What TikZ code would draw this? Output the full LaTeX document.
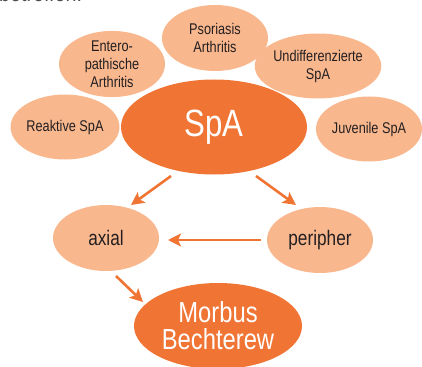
\documentclass[tikz,border=0pt]{standalone}
\usepackage{fontspec}
\setmainfont[FakeStretch=0.82]{Liberation Sans}
\usetikzlibrary{arrows.meta,shapes.geometric}
\definecolor{dark}{RGB}{240,116,52}
\definecolor{light}{RGB}{249,183,142}
\definecolor{txt}{RGB}{35,31,32}
\tikzset{
  sub/.style={ellipse, fill=light, text=txt, inner sep=0pt, minimum width=106pt, minimum height=65pt, align=center, font=\fontsize{15.5}{18}\selectfont},
  mid/.style={ellipse, fill=light, text=txt, inner sep=0pt, minimum width=106pt, minimum height=66pt, font=\fontsize{21}{24}\selectfont},
  main/.style={ellipse, fill=dark, text=white, inner sep=0pt, align=center},
  arr/.style={draw=dark, line width=2.6pt, -{Stealth[length=13pt, width=13pt, inset=3pt]}}
}
\begin{document}
\begin{tikzpicture}[x=1pt, y=-1pt]
\useasboundingbox (0,0) rectangle (422,366);
\clip (0,0) rectangle (422,366);
\node[anchor=base west, text=txt!80, font=\fontsize{24}{26}\selectfont, inner sep=0pt] (top) at (-1,2) {betreffen.};
\node[main, minimum width=186pt, minimum height=95pt, font=\fontsize{38}{40}\selectfont] (spa) at (214,127) {SpA};
\node[sub] (reak) at (65,127) {Reaktive SpA};
\node[sub] (ent) at (112,64) {Entero-\\pathische\\Arthritis};
\node[sub, minimum height=66pt] (pso) at (215,38) {Psoriasis\\Arthritis};
\node[sub] (undiff) at (318,66) {Undifferenzierte\\SpA};
\node[sub] (juv) at (369,129) {Juvenile SpA};
\node[mid] (axial) at (106,238) {axial};
\node[mid] (peri) at (320,240) {peripher};
\node[main, minimum width=168pt, minimum height=86pt, font=\fontsize{29}{27}\selectfont] (mb) at (218,326) {Morbus\\Bechterew};
\coordinate (a1) at (171,176);
\coordinate (a2) at (131,205);
\coordinate (b1) at (256,176);
\coordinate (b2) at (296,205);
\coordinate (c1) at (261,240);
\coordinate (c2) at (168,240);
\coordinate (d1) at (116,276);
\coordinate (d2) at (143,302);
\draw[arr] (a1) -- (a2);
\draw[arr] (b1) -- (b2);
\draw[arr] (c1) -- (c2);
\draw[arr] (d1) -- (d2);
\end{tikzpicture}
\end{document}
